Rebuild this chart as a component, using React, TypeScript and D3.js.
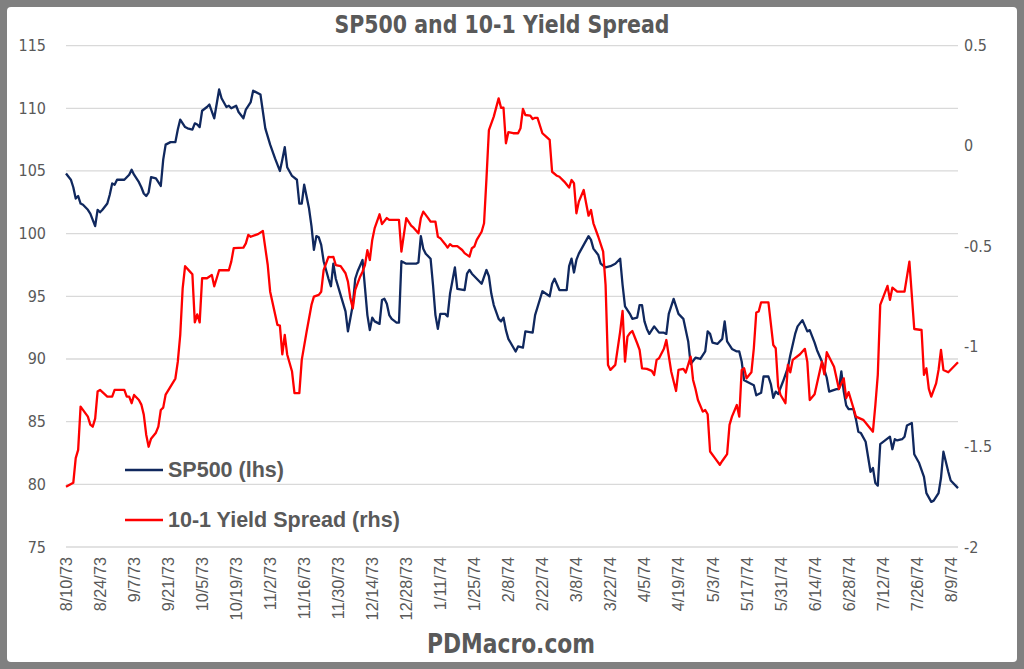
import React from 'react';
import * as d3 from 'd3';

const spDates: string[] = [
  '1973-08-10','1973-08-12','1973-08-13','1973-08-14','1973-08-15','1973-08-16','1973-08-17','1973-08-19','1973-08-20','1973-08-21',
  '1973-08-22','1973-08-23','1973-08-24','1973-08-25','1973-08-27','1973-08-28','1973-08-29','1973-08-30','1973-08-31','1973-09-03',
  '1973-09-04','1973-09-05','1973-09-06','1973-09-07','1973-09-09','1973-09-10','1973-09-11','1973-09-12','1973-09-13','1973-09-14',
  '1973-09-16','1973-09-17','1973-09-18','1973-09-19','1973-09-20','1973-09-22','1973-09-24','1973-09-25','1973-09-26','1973-09-28',
  '1973-09-29','1973-10-01','1973-10-02','1973-10-03','1973-10-04','1973-10-05','1973-10-07','1973-10-08','1973-10-10','1973-10-12',
  '1973-10-13','1973-10-15','1973-10-16','1973-10-17','1973-10-19','1973-10-20','1973-10-22','1973-10-23','1973-10-25','1973-10-26',
  '1973-10-29','1973-10-31','1973-11-02','1973-11-04','1973-11-06','1973-11-07','1973-11-08','1973-11-09','1973-11-11','1973-11-13',
  '1973-11-14','1973-11-15','1973-11-16','1973-11-18','1973-11-19','1973-11-20','1973-11-21','1973-11-22','1973-11-23','1973-11-24',
  '1973-11-26','1973-11-27','1973-11-28','1973-11-29','1973-12-01','1973-12-03','1973-12-04','1973-12-06','1973-12-07','1973-12-08',
  '1973-12-10','1973-12-12','1973-12-13','1973-12-14','1973-12-15','1973-12-17','1973-12-18','1973-12-19','1973-12-20','1973-12-21',
  '1973-12-22','1973-12-24','1973-12-25','1973-12-26','1973-12-28','1974-01-01','1974-01-02','1974-01-03','1974-01-04','1974-01-05',
  '1974-01-07','1974-01-08','1974-01-09','1974-01-10','1974-01-11','1974-01-13','1974-01-14','1974-01-15','1974-01-17','1974-01-18',
  '1974-01-21','1974-01-22','1974-01-23','1974-01-24','1974-01-26','1974-01-27','1974-01-28','1974-01-30','1974-01-31','1974-02-01',
  '1974-02-02','1974-02-04','1974-02-05','1974-02-06','1974-02-07','1974-02-08','1974-02-11','1974-02-12','1974-02-14','1974-02-15',
  '1974-02-18','1974-02-19','1974-02-22','1974-02-25','1974-02-26','1974-02-27','1974-03-01','1974-03-04','1974-03-05','1974-03-06',
  '1974-03-07','1974-03-08','1974-03-09','1974-03-11','1974-03-13','1974-03-14','1974-03-15','1974-03-17','1974-03-18','1974-03-20',
  '1974-03-22','1974-03-24','1974-03-26','1974-03-27','1974-03-28','1974-03-30','1974-03-31','1974-04-02','1974-04-03','1974-04-04',
  '1974-04-05','1974-04-06','1974-04-07','1974-04-09','1974-04-11','1974-04-13','1974-04-14','1974-04-15','1974-04-17','1974-04-19',
  '1974-04-21','1974-04-23','1974-04-24','1974-04-26','1974-04-28','1974-04-30','1974-05-01','1974-05-02','1974-05-03','1974-05-05',
  '1974-05-07','1974-05-08','1974-05-09','1974-05-11','1974-05-13','1974-05-14','1974-05-15','1974-05-16','1974-05-19','1974-05-20',
  '1974-05-21','1974-05-23','1974-05-24','1974-05-26','1974-05-27','1974-05-28','1974-05-29','1974-05-30','1974-06-01','1974-06-03',
  '1974-06-04','1974-06-06','1974-06-07','1974-06-09','1974-06-11','1974-06-12','1974-06-14','1974-06-15','1974-06-17','1974-06-19',
  '1974-06-20','1974-06-23','1974-06-24','1974-06-25','1974-06-26','1974-06-27','1974-06-28','1974-06-30','1974-07-01','1974-07-02',
  '1974-07-03','1974-07-05','1974-07-06','1974-07-07','1974-07-08','1974-07-09','1974-07-10','1974-07-11','1974-07-13','1974-07-15',
  '1974-07-16','1974-07-17','1974-07-18','1974-07-20','1974-07-21','1974-07-22','1974-07-24','1974-07-25','1974-07-27','1974-07-29',
  '1974-07-30','1974-08-01','1974-08-02','1974-08-04','1974-08-05','1974-08-06','1974-08-08','1974-08-09','1974-08-12'
];
const spValues: number[] = [
  104.8,104.3,103.7,102.8,103.0,102.4,102.3,101.9,101.6,101.1,
  100.6,101.9,101.7,101.9,102.4,103.1,104.0,103.9,104.3,104.3,
  104.5,104.7,105.1,104.7,104.1,103.7,103.2,103.0,103.3,104.5,
  104.4,104.1,103.8,105.9,107.1,107.3,107.3,108.3,109.1,108.5,
  108.4,108.3,108.8,108.7,108.5,109.8,110.1,110.3,109.2,111.5,
  110.8,110.1,110.2,110.0,110.2,109.7,109.2,109.9,110.5,111.4,
  111.1,108.4,107.1,106.0,105.0,105.9,106.9,105.3,104.6,104.3,
  102.4,102.4,103.9,102.0,100.6,98.7,99.8,99.7,99.1,97.8,
  96.4,95.8,97.6,96.4,95.1,93.8,92.2,94.3,96.4,97.0,
  97.9,93.5,92.3,93.3,93.0,92.8,94.7,94.8,94.4,93.5,
  93.2,92.9,92.9,97.8,97.6,97.6,97.7,99.8,98.8,98.4,
  98.0,95.9,93.5,92.4,93.6,93.6,93.4,95.2,97.3,95.6,
  95.5,96.8,97.1,96.8,96.4,96.2,96.0,97.1,96.6,95.2,
  94.3,93.2,93.0,93.3,92.3,91.6,90.6,91.0,90.9,92.2,
  92.1,93.5,95.4,95.0,96.0,96.4,95.5,95.5,97.4,98.0,
  96.9,97.9,98.4,99.1,99.8,99.5,98.8,98.3,97.6,97.3,
  97.4,97.6,98.0,95.9,94.2,93.6,93.2,93.3,94.3,94.3,
  93.0,92.4,92.0,92.6,92.1,92.1,92.0,93.6,94.8,93.6,
  93.2,91.4,89.6,90.1,90.0,90.6,92.2,92.0,91.3,91.2,
  91.6,93.0,91.4,90.8,90.6,90.6,89.8,88.3,88.0,87.9,
  87.1,87.3,88.6,88.6,88.0,86.9,87.4,87.2,88.2,89.3,
  90.3,92.0,92.6,93.1,92.2,92.3,91.3,90.7,89.8,88.5,
  87.4,87.6,87.6,89.0,87.4,86.3,86.0,86.0,85.2,84.2,
  84.1,83.4,82.2,81.0,81.3,80.1,79.9,83.2,83.5,83.8,
  82.8,83.6,83.5,83.6,83.8,84.7,84.9,82.4,81.7,80.6,
  79.3,78.6,78.7,79.3,80.5,82.6,81.0,80.3,79.7
];

const spreadDates: string[] = [
  '1973-08-10','1973-08-13','1973-08-14','1973-08-15','1973-08-16','1973-08-19','1973-08-20','1973-08-21','1973-08-22','1973-08-23',
  '1973-08-24','1973-08-27','1973-08-29','1973-08-30','1973-09-03','1973-09-04','1973-09-05','1973-09-06','1973-09-07','1973-09-09',
  '1973-09-10','1973-09-11','1973-09-12','1973-09-13','1973-09-14','1973-09-16','1973-09-17','1973-09-18','1973-09-19','1973-09-20',
  '1973-09-22','1973-09-24','1973-09-25','1973-09-26','1973-09-27','1973-09-28','1973-09-30','1973-10-01','1973-10-02','1973-10-03',
  '1973-10-04','1973-10-05','1973-10-07','1973-10-09','1973-10-10','1973-10-12','1973-10-16','1973-10-17','1973-10-18','1973-10-22',
  '1973-10-23','1973-10-24','1973-10-25','1973-10-28','1973-10-30','1973-11-01','1973-11-02','1973-11-05','1973-11-06','1973-11-07',
  '1973-11-08','1973-11-09','1973-11-11','1973-11-12','1973-11-14','1973-11-15','1973-11-17','1973-11-19','1973-11-20','1973-11-22',
  '1973-11-23','1973-11-24','1973-11-26','1973-11-27','1973-11-28','1973-11-29','1973-12-01','1973-12-03','1973-12-04','1973-12-05',
  '1973-12-06','1973-12-07','1973-12-09','1973-12-10','1973-12-11','1973-12-12','1973-12-13','1973-12-14','1973-12-15','1973-12-17',
  '1973-12-18','1973-12-20','1973-12-21','1973-12-25','1973-12-26','1973-12-28','1973-12-30','1973-12-31','1974-01-02','1974-01-03',
  '1974-01-04','1974-01-06','1974-01-07','1974-01-09','1974-01-10','1974-01-11','1974-01-13','1974-01-14','1974-01-15','1974-01-16',
  '1974-01-18','1974-01-20','1974-01-21','1974-01-23','1974-01-24','1974-01-25','1974-01-26','1974-01-28','1974-01-29','1974-01-30',
  '1974-01-31','1974-02-02','1974-02-04','1974-02-05','1974-02-06','1974-02-07','1974-02-08','1974-02-10','1974-02-12','1974-02-13',
  '1974-02-14','1974-02-15','1974-02-17','1974-02-18','1974-02-19','1974-02-20','1974-02-22','1974-02-24','1974-02-25','1974-02-26',
  '1974-02-28','1974-03-01','1974-03-03','1974-03-05','1974-03-06','1974-03-07','1974-03-08','1974-03-09','1974-03-11','1974-03-12',
  '1974-03-13','1974-03-14','1974-03-15','1974-03-17','1974-03-19','1974-03-20','1974-03-21','1974-03-22','1974-03-24','1974-03-26',
  '1974-03-27','1974-03-28','1974-03-29','1974-03-30','1974-03-31','1974-04-02','1974-04-03','1974-04-04','1974-04-06','1974-04-08',
  '1974-04-09','1974-04-10','1974-04-11','1974-04-13','1974-04-14','1974-04-16','1974-04-18','1974-04-19','1974-04-21','1974-04-22',
  '1974-04-24','1974-04-25','1974-04-26','1974-04-27','1974-04-29','1974-04-30','1974-05-01','1974-05-02','1974-05-04','1974-05-06',
  '1974-05-07','1974-05-09','1974-05-10','1974-05-11','1974-05-13','1974-05-14','1974-05-15','1974-05-16','1974-05-17','1974-05-19',
  '1974-05-20','1974-05-21','1974-05-22','1974-05-23','1974-05-26','1974-05-28','1974-05-29','1974-05-30','1974-05-31','1974-06-02',
  '1974-06-03','1974-06-04','1974-06-05','1974-06-08','1974-06-10','1974-06-11','1974-06-12','1974-06-14','1974-06-17','1974-06-18',
  '1974-06-19','1974-06-22','1974-06-24','1974-06-26','1974-06-27','1974-06-28','1974-06-30','1974-07-01','1974-07-04','1974-07-08',
  '1974-07-09','1974-07-10','1974-07-11','1974-07-14','1974-07-15','1974-07-16','1974-07-18','1974-07-21','1974-07-23','1974-07-25',
  '1974-07-28','1974-07-29','1974-07-30','1974-07-31','1974-08-01','1974-08-03','1974-08-04','1974-08-05','1974-08-06','1974-08-08',
  '1974-08-12'
];
const spreadValues: number[] = [
  -1.70,-1.68,-1.557,-1.516,-1.30,-1.35,-1.39,-1.40,-1.36,-1.225,
  -1.217,-1.25,-1.25,-1.217,-1.217,-1.25,-1.25,-1.283,-1.242,-1.267,
  -1.29,-1.34,-1.44,-1.50,-1.46,-1.43,-1.40,-1.317,-1.305,-1.24,
  -1.20,-1.16,-1.076,-0.943,-0.71,-0.60,-0.627,-0.64,-0.88,-0.84,
  -0.88,-0.66,-0.66,-0.644,-0.70,-0.62,-0.62,-0.577,-0.51,-0.507,
  -0.486,-0.444,-0.453,-0.44,-0.424,-0.594,-0.727,-0.893,-0.896,-1.04,
  -0.943,-1.04,-1.125,-1.233,-1.233,-1.067,-0.926,-0.793,-0.752,-0.743,
  -0.727,-0.62,-0.553,-0.555,-0.553,-0.594,-0.60,-0.635,-0.677,-0.76,
  -0.81,-0.718,-0.652,-0.627,-0.594,-0.52,-0.569,-0.469,-0.41,-0.341,
  -0.39,-0.36,-0.369,-0.369,-0.527,-0.36,-0.398,-0.408,-0.436,-0.36,
  -0.328,-0.36,-0.378,-0.378,-0.453,-0.46,-0.49,-0.507,-0.49,-0.50,
  -0.50,-0.519,-0.535,-0.552,-0.51,-0.502,-0.469,-0.428,-0.386,-0.162,
  0.079,0.146,0.237,0.19,0.19,0.013,0.068,0.063,0.063,0.088,
  0.184,0.154,0.151,0.134,0.14,0.14,0.063,0.041,0.03,-0.129,
  -0.149,-0.154,-0.178,-0.208,-0.17,-0.186,-0.336,-0.278,-0.22,-0.286,
  -0.348,-0.32,-0.386,-0.453,-0.527,-0.693,-1.092,-1.117,-1.092,-0.926,
  -0.823,-1.076,-0.951,-0.934,-0.923,-0.984,-1.017,-1.109,-1.112,-1.122,
  -1.142,-1.067,-1.059,-1.012,-0.968,-1.125,-1.222,-1.117,-1.112,-1.13,
  -1.051,-1.167,-1.212,-1.267,-1.325,-1.317,-1.338,-1.524,-1.557,-1.59,
  -1.571,-1.537,-1.391,-1.35,-1.292,-1.35,-1.117,-1.109,-1.159,-1.129,
  -1.009,-0.831,-0.826,-0.78,-0.78,-0.993,-1.009,-1.20,-1.242,-1.283,
  -1.092,-1.129,-1.067,-1.039,-1.012,-1.076,-1.267,-1.238,-1.076,-1.139,
  -1.029,-1.101,-1.212,-1.159,-1.258,-1.228,-1.308,-1.35,-1.366,-1.425,
  -1.292,-1.142,-0.793,-0.698,-0.768,-0.707,-0.727,-0.727,-0.577,-0.913,
  -0.918,-1.142,-1.109,-1.212,-1.25,-1.184,-1.117,-1.017,-1.117,-1.129,
  -1.079
];

const leftTicks: number[] = [75, 80, 85, 90, 95, 100, 105, 110, 115];
const rightTicks: number[] = [-2, -1.5, -1, -0.5, 0, 0.5];
const xTickLabels: string[] = [
  '8/10/73','8/24/73','9/7/73','9/21/73','10/5/73','10/19/73','11/2/73','11/16/73','11/30/73',
  '12/14/73','12/28/73','1/11/74','1/25/74','2/8/74','2/22/74','3/8/74','3/22/74','4/5/74',
  '4/19/74','5/3/74','5/17/74','5/31/74','6/14/74','6/28/74','7/12/74','7/26/74','8/9/74'
];
const axisStart = '1973-08-10';
const axisEnd = '1974-08-12';
const titleText = 'SP500 and 10-1 Yield Spread';
const seriesNames = ['SP500 (lhs)', '10-1 Yield Spread (rhs)'];
const footerText = 'PDMacro.com';

const NAVY = '#10285e';
const RED = '#ff0000';
const GRAY_TEXT = '#595959';
const NARROW = '"Liberation Sans Narrow", "DejaVu Sans Condensed", "Roboto Condensed", "Liberation Sans", sans-serif';
const SANS = '"Liberation Sans", Arial, sans-serif';

export default function App() {
  const W = 1024, H = 669;
  const left = 66, right = 958, top = 45.6, bottom = 547;
  const parseIso = d3.timeParse('%Y-%m-%d');
  const parseLbl = d3.timeParse('%m/%d/%y');

  const x = d3.scaleTime()
    .domain([parseIso(axisStart) as Date, parseIso(axisEnd) as Date])
    .range([left, right]);
  const yL = d3.scaleLinear().domain([75, 115]).range([bottom, top]);
  const yR = d3.scaleLinear().domain([-2, 0.5]).range([bottom, top]);

  const spData = spDates.map((d, i) => ({ t: parseIso(d) as Date, v: spValues[i] }));
  const rData = spreadDates.map((d, i) => ({ t: parseIso(d) as Date, v: spreadValues[i] }));

  const spLine = d3.line<{ t: Date; v: number }>().x(d => x(d.t)).y(d => yL(d.v));
  const rLine = d3.line<{ t: Date; v: number }>().x(d => x(d.t)).y(d => yR(d.v));

  return (
    <svg width={W} height={H} style={{ position: 'absolute', left: 0, top: 0 }}>
      <rect x={0} y={0} width={W} height={H} fill="#808080" />
      <rect x={7} y={7} width={W - 14} height={H - 14} fill="#ffffff" rx={4} />
      <text x={502} y={33} textAnchor="middle" fontFamily={NARROW} fontWeight="bold" fontSize={25}
        fill={GRAY_TEXT} textLength={335} lengthAdjust="spacingAndGlyphs">{titleText}</text>

      {leftTicks.map(t => (
        <line key={'g' + t} x1={left} x2={right} y1={yL(t)} y2={yL(t)} stroke="#d9d9d9" strokeWidth={1.3} />
      ))}
      {leftTicks.map(t => (
        <text key={'l' + t} x={46} y={yL(t)} textAnchor="end" dominantBaseline="central"
          fontFamily={NARROW} fontSize={16} fill={GRAY_TEXT}>{t}</text>
      ))}
      {rightTicks.map(t => (
        <text key={'r' + t} x={964} y={yR(t)} textAnchor="start" dominantBaseline="central"
          fontFamily={NARROW} fontSize={16} fill={GRAY_TEXT}>{t}</text>
      ))}
      {xTickLabels.map(l => {
        const xx = x(parseLbl(l) as Date);
        return (
          <text key={l} transform={`translate(${xx},${557}) rotate(-90)`} textAnchor="end"
            dominantBaseline="central" fontFamily={SANS} fontSize={16.3} fill={GRAY_TEXT}>{l}</text>
        );
      })}

      <path d={spLine(spData) || ''} fill="none" stroke={NAVY} strokeWidth={2.3} strokeLinejoin="round" />
      <path d={rLine(rData) || ''} fill="none" stroke={RED} strokeWidth={2.3} strokeLinejoin="round" />

      <line x1={125} x2={163} y1={470} y2={470} stroke={NAVY} strokeWidth={2.3} />
      <text x={168} y={470} dominantBaseline="central" fontFamily={SANS} fontWeight="bold" fontSize={21.5}
        fill={GRAY_TEXT}>{seriesNames[0]}</text>
      <line x1={125} x2={163} y1={520} y2={520} stroke={RED} strokeWidth={2.3} />
      <text x={168} y={520} dominantBaseline="central" fontFamily={SANS} fontWeight="bold" fontSize={21.5}
        fill={GRAY_TEXT}>{seriesNames[1]}</text>

      <text x={511} y={653} textAnchor="middle" fontFamily={NARROW} fontWeight="bold" fontSize={27}
        fill={GRAY_TEXT} textLength={168} lengthAdjust="spacingAndGlyphs">{footerText}</text>
    </svg>
  );
}
